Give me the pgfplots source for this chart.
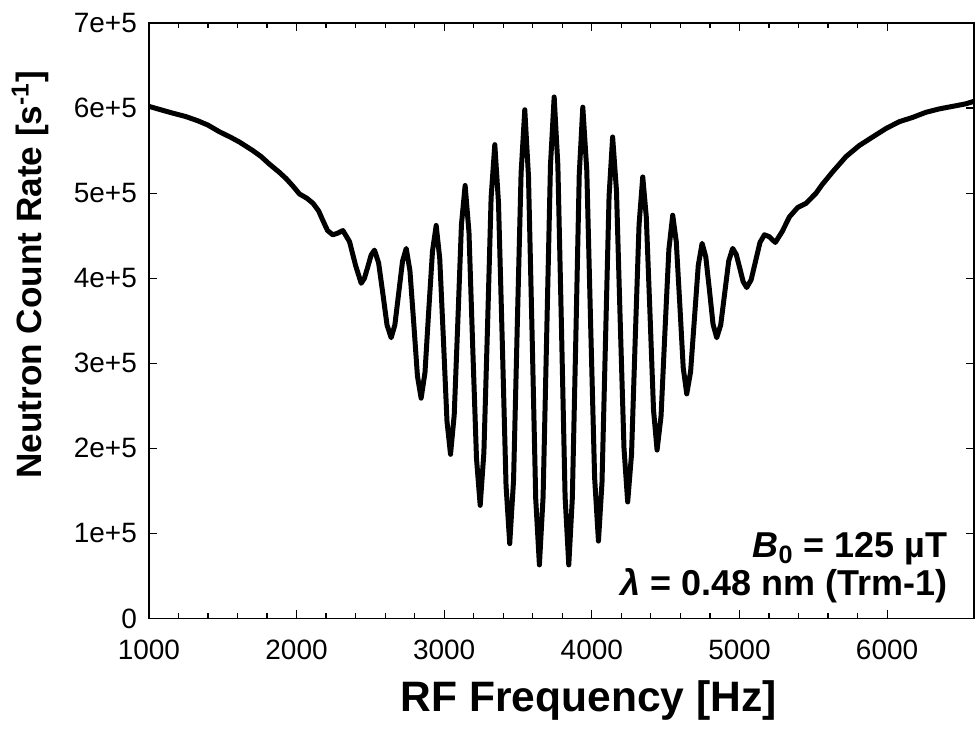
\documentclass[border=0pt]{standalone}
\usepackage{fontspec}
\setmainfont{Liberation Sans}
\usepackage{pgfplots}
\pgfplotsset{compat=1.18}
\pgfplotstableread{
x y
1000 602000
1080 598000
1162 594000
1250 590000
1332 585000
1400 580000
1479 572000
1550 566000
1614 560000
1704 550000
1760 543000
1817 534000
1880 525000
1930 517000
1977 508000
2020 499000
2070 494000
2112 488000
2150 479000
2178 468000
2210 456000
2246 451000
2280 453000
2314 456000
2359 443000
2400 415000
2438 394000
2460 400000
2483 413500
2505 427000
2528 433000
2556 418000
2585 381500
2613 345000
2641 330000
2666 345000
2692 382500
2718 420000
2743 435000
2768 409000
2794 347000
2819 285000
2844 259000
2870 289000
2895 360500
2921 432000
2946 462000
2970 423000
2995 327500
3019 232000
3043 193000
3068 239000
3093 351000
3117 463000
3142 509000
3168 454000
3193 321000
3219 188000
3244 133000
3269 195000
3294 345000
3318 495000
3343 557000
3368 488500
3394 322500
3419 156500
3444 88000
3470 162500
3495 343000
3521 523500
3546 598000
3571 520000
3596 330500
3620 141000
3645 63000
3670 143000
3695 338000
3720 533000
3745 613000
3770 533000
3795 338000
3819 143000
3844 63000
3868 141500
3892 332000
3915 522500
3939 601000
3966 526500
3992 346000
4019 165500
4045 91000
4069 160000
4093 328500
4117 497000
4141 566000
4167 503000
4192 351500
4218 200000
4243 137000
4269 193000
4294 328000
4320 463000
4345 519000
4369 472000
4394 358500
4418 245000
4442 198000
4469 238000
4495 336000
4522 434000
4548 474000
4572 443000
4596 369000
4619 295000
4643 264000
4669 290000
4695 352500
4721 415000
4747 441000
4772 425000
4797 385500
4821 346000
4846 330000
4873 345000
4900 382500
4927 420000
4954 435000
4978 428000
5002 412000
5025 396000
5049 389000
5079 398000
5109 420000
5139 442000
5169 451000
5200 449000
5243 442000
5290 455000
5338 472000
5394 483000
5451 488000
5519 500000
5560 510000
5631 525000
5722 543000
5812 556000
5902 566000
5993 576000
6083 584000
6173 589000
6263 595000
6353 599000
6444 602000
6534 605000
6590 608000
}\datatable
\begin{document}
\begin{tikzpicture}
\begin{axis}[
  width=413pt, height=298pt, scale only axis,
  xmin=1000, xmax=6590, ymin=0, ymax=700000,
  xtick={1000,2000,3000,4000,5000,6000},
  xticklabels={1000,2000,3000,4000,5000,6000},
  minor x tick num=4,
  ytick={0,100000,200000,300000,400000,500000,600000,700000},
  yticklabels={0,1e+5,2e+5,3e+5,4e+5,5e+5,6e+5,7e+5},
  scaled y ticks=false, scaled x ticks=false,
  tick align=inside, xtick pos=both, ytick pos=both,
  major tick length=4.2pt, minor tick length=2.5pt,
  axis line style={line width=0.75pt},
  every tick/.style={black, line width=0.6pt},
  tick label style={font=\fontsize{14}{16}\selectfont},
  /pgf/number format/assume math mode=true,
  xticklabel style={yshift=-7pt},
  yticklabel style={xshift=-2.5pt},
  xlabel={\textbf{RF Frequency [Hz]}},
  ylabel={\textbf{Neutron Count Rate [s\textsuperscript{-1}]}},
  xlabel style={font=\fontsize{21.3}{25}\selectfont, at={(axis description cs:0.533,-0.137)}, anchor=center},
  ylabel style={font=\fontsize{17.6}{22}\selectfont, at={(axis description cs:-0.144,0.577)}, anchor=center},
]
\addplot[black, line width=2.5pt, line join=round, line cap=round] table[x=x, y=y] {\datatable};
\node[anchor=base east, align=right, inner sep=0pt, font=\fontsize{18}{19}\selectfont\bfseries] at (axis cs:6410,27000) {\textit{B}\textsubscript{0} = 125 µT\\\textit{λ} = 0.48 nm (Trm-1)};
\coordinate (SW) at (rel axis cs:0,0);
\coordinate (NE) at (rel axis cs:1,1);
\end{axis}
\pgfresetboundingbox
\path[use as bounding box] ([xshift=-74.5pt,yshift=-55.75pt]SW) rectangle ([xshift=0.4pt,yshift=11.5pt]NE);
\end{tikzpicture}
\end{document}
